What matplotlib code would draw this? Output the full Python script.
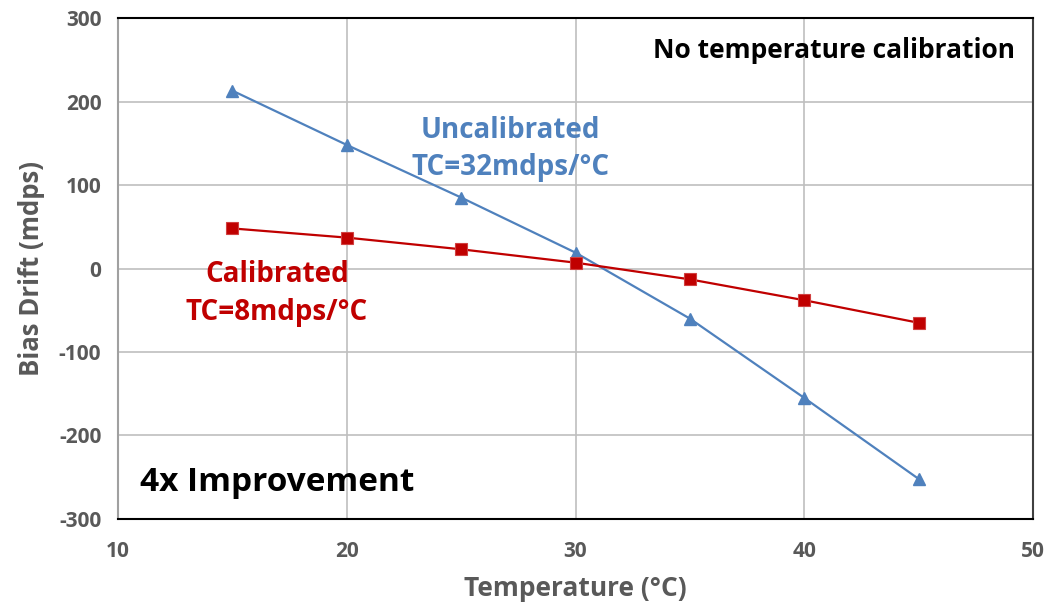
import matplotlib
matplotlib.use("Agg")
import matplotlib.pyplot as plt

temps = [15, 20, 25, 30, 35, 40, 45]
uncalibrated = [213, 148, 85, 19, -60, -155, -252]
calibrated = [48, 37, 23, 7, -13, -38, -65]
xticks = [10, 20, 30, 40, 50]
yticks = [-300, -200, -100, 0, 100, 200, 300]

blue = "#4F81BD"
red = "#C00000"
gray = "#595959"
font = ["Open Sans", "DejaVu Sans"]

plt.rcParams['font.family'] = font
plt.rcParams['axes.unicode_minus'] = False
fig = plt.figure(figsize=(10.5, 6.11), dpi=100)
ax = fig.add_axes([0.1124, 0.1506, 0.8714, 0.8199])

ax.plot(temps, uncalibrated, color=blue, lw=1.6, marker="^", ms=8, zorder=3)
ax.plot(temps, calibrated, color=red, lw=1.6, marker="s", ms=8, zorder=3,
        markeredgecolor="#D04040", markeredgewidth=0.8)

ax.set_xlim(10, 50)
ax.set_ylim(-300, 300)
ax.set_xticks(xticks)
ax.set_yticks(yticks)
ax.grid(True, color="#BFBFBF", lw=1.2)
ax.set_axisbelow(True)
ax.tick_params(length=0, labelsize=15, labelcolor=gray)
ax.tick_params(axis='x', pad=16)
ax.tick_params(axis='y', pad=12)
for lab in ax.get_xticklabels() + ax.get_yticklabels():
    lab.set_fontweight("bold")

ax.spines['left'].set_color("#A0A0A0")
ax.spines['top'].set_color("#000000")
ax.spines['bottom'].set_color("#000000")
ax.spines['right'].set_color("#404040")
for s in ax.spines.values():
    s.set_linewidth(1.5)

ax.set_xlabel("Temperature (°C)", fontsize=19, fontweight="bold", color=gray, labelpad=9)
ax.set_ylabel("Bias Drift (mdps)", fontsize=18.5, fontweight="bold", color=gray, labelpad=10)

ax.text(49.2, 261, "No temperature calibration", ha="right", va="center",
        fontsize=19, fontweight="bold", color="black")
ax.text(27.15, 143, "Uncalibrated\nTC=32mdps/°C", ha="center", va="center",
        fontsize=20, fontweight="bold", color=blue, linespacing=1.38)
ax.text(16.95, -30, "Calibrated\nTC=8mdps/°C", ha="center", va="center",
        fontsize=20, fontweight="bold", color=red, linespacing=1.38)
ax.text(10.96, -256, "4x Improvement", ha="left", va="center",
        fontsize=24, fontweight="bold", color="black")

fig.savefig("out.png", dpi=100)
